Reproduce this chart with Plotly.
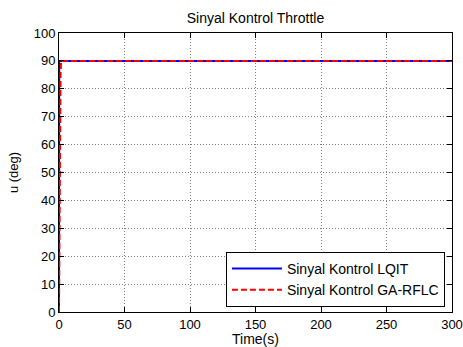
import plotly.graph_objects as go

# Throttle control signal for the two controllers
t_lqit = [0, 0.2, 300]
u_lqit = [0, 90, 90]

t_ga = [0, 0.4, 0.8, 1.2, 1.6, 300]
u_ga = [0, 50, 75, 85, 90, 90]

x_ticks = [0, 50, 100, 150, 200, 250, 300]
y_ticks = [0, 10, 20, 30, 40, 50, 60, 70, 80, 90, 100]

FONT = "Liberation Sans, Arial, sans-serif"

fig = go.Figure()
fig.add_trace(go.Scatter(x=t_lqit, y=u_lqit, mode="lines", name="Sinyal Kontrol LQIT",
                         line=dict(color="#0000ff", width=2)))
fig.add_trace(go.Scatter(x=t_ga, y=u_ga, mode="lines", name="Sinyal Kontrol GA-RFLC",
                         line=dict(color="#ff0000", width=2, dash="6px,3px")))

axis_common = dict(
    showline=True, linecolor="black", linewidth=1, mirror="ticks",
    ticks="inside", ticklen=5, tickcolor="black",
    showgrid=True, gridcolor="#808080", griddash="1px,2px", gridwidth=1,
    zeroline=False, automargin=False,
    tickfont=dict(family=FONT, size=13, color="black"),
)

fig.update_layout(
    width=463, height=347,
    margin=dict(l=59, r=11, t=33, b=35),
    paper_bgcolor="white", plot_bgcolor="white",
    title=dict(text="Sinyal Kontrol Throttle", x=(59 + 452) / 2 / 463, xanchor="center",
               y=1 - 18 / 347, yanchor="middle",
               font=dict(family=FONT, size=14, color="black")),
    xaxis=dict(range=[0, 300], tickvals=x_ticks,
               title=dict(text="Time(s)", standoff=3,
                          font=dict(family=FONT, size=14, color="black")),
               **axis_common),
    yaxis=dict(range=[0, 100], tickvals=y_ticks,
               title=dict(text="u (deg)", standoff=12,
                          font=dict(family=FONT, size=13, color="black")),
               **axis_common),
    legend=dict(x=0.982, y=0.018, xanchor="right", yanchor="bottom",
                bgcolor="white", bordercolor="black", borderwidth=1,
                font=dict(family=FONT, size=14, color="black"),
                itemwidth=50, tracegroupgap=0),
    showlegend=True,
)

fig.write_html("out.html")
